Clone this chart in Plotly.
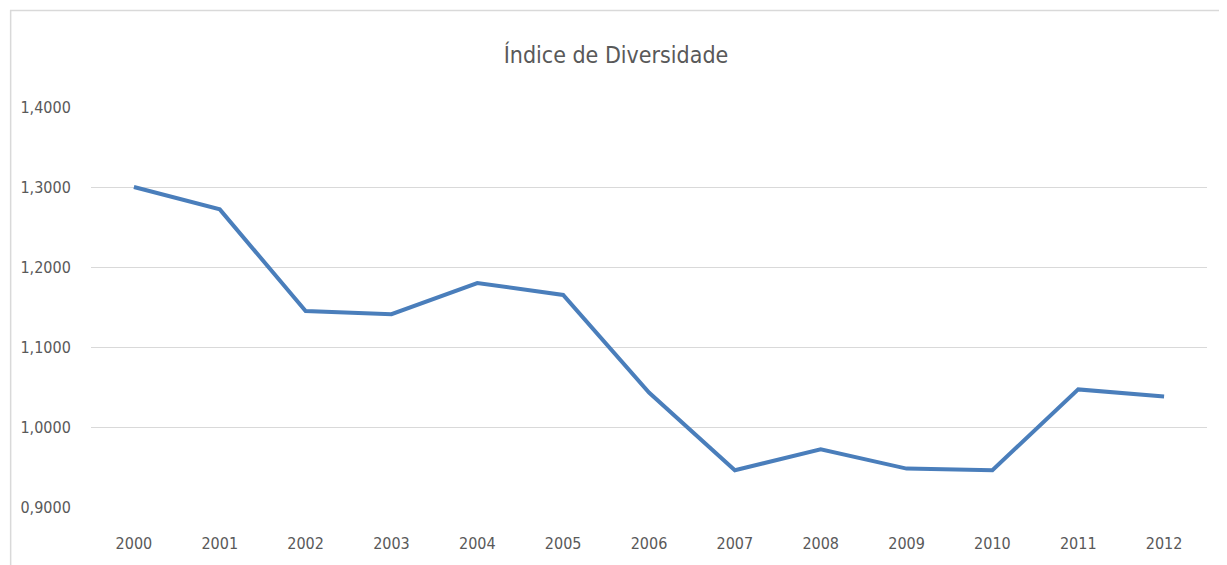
import plotly.graph_objects as go

years = ["2000", "2001", "2002", "2003", "2004", "2005", "2006", "2007", "2008", "2009", "2010", "2011", "2012"]
diversity_index = [1.300, 1.272, 1.145, 1.141, 1.180, 1.165, 1.043, 0.946, 0.972, 0.948, 0.946, 1.047, 1.038]
y_ticks = [0.9, 1.0, 1.1, 1.2, 1.3, 1.4]
y_tick_labels = ["0,9000", "1,0000", "1,1000", "1,2000", "1,3000", "1,4000"]

FONT = "DejaVu Sans Condensed, Lato, sans-serif"

fig = go.Figure()
fig.add_trace(go.Scatter(
    x=years, y=diversity_index, mode="lines",
    line=dict(color="#4a7ebb", width=4),
    hoverinfo="x+y", showlegend=False,
))

# page body has an 8px margin; figure is sized to fit the window
OFF = 8
W, H = 1227 - OFF, 565 - OFF
L, R, T, B = 89 - OFF, 20, 107 - OFF, 56
pw, ph = W - L - R, H - T - B

def px_x(p):
    return (p - OFF - L) / pw

def px_y(p):
    return (H - B - (p - OFF)) / ph

fig.add_shape(type="rect", xref="paper", yref="paper",
              x0=px_x(8.5), x1=px_x(1222), y0=px_y(640), y1=px_y(10),
              line=dict(color="#d9d9d9", width=1.5), fillcolor="rgba(0,0,0,0)", layer="below")

fig.update_layout(
    width=W, height=H,
    margin=dict(l=L, r=R, t=T, b=B),
    paper_bgcolor="white", plot_bgcolor="white",
    title=dict(text="Índice de Diversidade", x=(616 - OFF) / W, xanchor="center",
               y=1 - (55 - OFF) / H, yanchor="middle",
               font=dict(family=FONT, size=23, color="#595959")),
    xaxis=dict(type="category", range=[-0.5, 12.5], showgrid=False, zeroline=False,
               showline=False, ticks="outside", ticklen=22, tickcolor="rgba(0,0,0,0)",
               tickfont=dict(family=FONT, size=16, color="#595959")),
    yaxis=dict(range=[0.9, 1.4], tickvals=y_ticks, ticktext=y_tick_labels,
               showgrid=True, gridcolor="#d9d9d9", gridwidth=1, zeroline=False,
               showline=False, ticks="outside", ticklen=16, tickcolor="rgba(0,0,0,0)",
               tickfont=dict(family=FONT, size=16, color="#595959")),
)

fig.write_html("out.html")
